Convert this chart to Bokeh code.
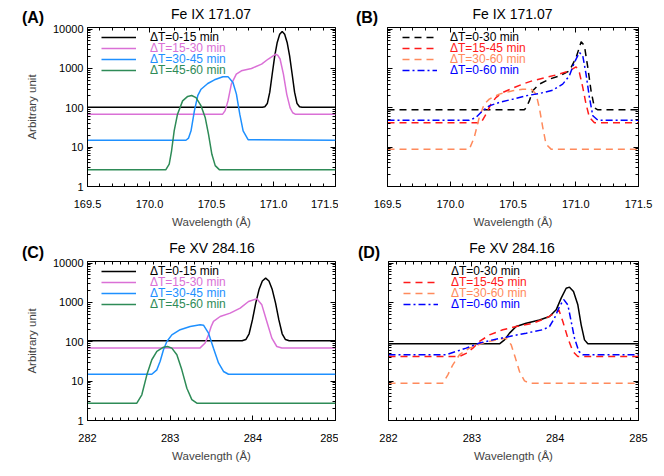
from bokeh.plotting import figure
from bokeh.models import (Range1d, FixedTicker, PrintfTickFormatter, LinearAxis, LogAxis,
                          Legend, LegendItem, Div)
from bokeh.layouts import column, row
from bokeh.embed import file_html
from bokeh.resources import INLINE

FONT = "Liberation Sans"

# ---------------- tick definitions ----------------
X_TICKS_FE9 = [169.5, 170.0, 170.5, 171.0, 171.5]
X_TICKS_FE15 = [282, 283, 284, 285]
Y_TICKS = [1, 10, 100, 1000, 10000]
Y_RANGE = (1, 11000)

# ---------------- Panel A: Fe IX 171.07, 15-min windows ----------------
A_0_15_x = [169.5, 170.91, 170.93, 170.95, 170.97, 170.99, 171.01, 171.03, 171.05, 171.07,
            171.09, 171.11, 171.13, 171.15, 171.17, 171.19, 171.21, 171.23, 171.5]
A_0_15_y = [104, 104, 107, 128, 250, 735, 2080, 4580, 7400, 8700,
            7400, 4580, 2080, 735, 250, 128, 107, 104, 104]

A_15_30_x = [169.5, 170.59, 170.61, 170.633, 170.66, 170.70, 170.741, 170.822, 170.904, 170.958,
             171.018, 171.035, 171.053, 171.08, 171.107, 171.134, 171.155, 171.175, 171.5]
A_15_30_y = [69, 69, 85, 150, 400, 720, 870, 1000, 1290, 1740,
             2300, 2150, 1740, 720, 220, 100, 75, 69, 69]

A_30_45_x = [169.5, 170.294, 170.315, 170.335, 170.362, 170.389, 170.416, 170.47, 170.524, 170.592,
             170.633, 170.673, 170.701, 170.728, 170.755, 170.795, 171.5]
A_30_45_y = [15, 15, 17, 26, 84, 203, 297, 415, 515, 615,
             620, 440, 223, 69, 26, 15.5, 15]

A_45_60_x = [169.5, 170.131, 170.159, 170.178, 170.199, 170.226, 170.267, 170.308, 170.34, 170.375,
             170.416, 170.449, 170.476, 170.503, 170.53, 170.565, 171.5]
A_45_60_y = [2.65, 2.65, 3.7, 8.1, 26, 69, 150, 195, 205, 182,
             112, 57, 21, 6.6, 3.4, 2.65, 2.65]

# ---------------- Panel B: Fe IX 171.07, 30/60-min windows ----------------
B_0_30_x = [169.5, 170.59, 170.604, 170.63, 170.657, 170.71, 170.79, 170.87, 170.949, 171.003,
            171.043, 171.069, 171.096, 171.122, 171.149, 171.176, 171.5]
B_0_30_y = [89, 89, 100, 150, 270, 400, 535, 650, 870, 1900,
            4750, 3800, 1060, 270, 100, 89, 89]

B_15_45_x = [169.5, 170.245, 170.285, 170.324, 170.364, 170.418, 170.497, 170.577, 170.657, 170.763,
             170.87, 170.949, 171.003, 171.029, 171.056, 171.082, 171.109, 171.149, 171.5]
B_15_45_y = [41.5, 41.5, 69, 124, 182, 245, 316, 400, 490, 590,
             720, 870, 1100, 790, 330, 124, 57, 41.5, 41.5]

B_30_60_x = [169.5, 170.152, 170.191, 170.231, 170.271, 170.311, 170.391, 170.497, 170.577, 170.644,
             170.684, 170.71, 170.737, 170.763, 170.803, 171.5]
B_30_60_y = [8.9, 8.9, 17.6, 57, 124, 166, 223, 270, 297, 300,
             223, 100, 32, 12, 8.9, 8.9]

B_0_60_x = [169.5, 170.152, 170.205, 170.258, 170.311, 170.391, 170.497, 170.604, 170.71, 170.816,
            170.896, 170.949, 170.989, 171.029, 171.056, 171.082, 171.109, 171.136, 171.176, 171.5]
B_0_60_y = [48.5, 48.5, 57, 84, 112, 137, 166, 203, 231, 280,
            400, 650, 1420, 2560, 2100, 720, 182, 63, 48.5, 48.5]

# ---------------- Panel C: Fe XV 284.16, 15-min windows ----------------
C_0_15_x = [282, 283.87, 283.915, 283.955, 283.995, 284.035, 284.075, 284.115, 284.155, 284.195,
            284.235, 284.275, 284.315, 284.355, 284.395, 284.44, 285]
C_0_15_y = [106, 106, 114, 160, 360, 960, 2130, 3510, 4150, 3510,
            2130, 960, 360, 160, 114, 106, 106]

C_15_30_x = [282, 283.363, 283.423, 283.464, 283.496, 283.524, 283.605, 283.726, 283.847, 283.948,
             284.048, 284.109, 284.169, 284.23, 284.29, 284.351, 285]
C_15_30_y = [70, 70, 93, 150, 245, 330, 440, 535, 720, 1060,
             1240, 870, 330, 124, 76, 70, 70]

C_30_45_x = [282, 282.778, 282.839, 282.879, 282.919, 282.96, 283.02, 283.121, 283.242, 283.363,
             283.403, 283.464, 283.524, 283.585, 283.645, 283.706, 285]
C_30_45_y = [15, 15, 19.4, 32, 63, 102, 150, 203, 245, 270,
             265, 166, 69, 29, 17.6, 15, 15]

C_45_60_x = [282, 282.597, 282.657, 282.718, 282.778, 282.839, 282.919, 282.968, 283.02, 283.081,
             283.141, 283.202, 283.262, 283.323, 285]
C_45_60_y = [2.75, 2.75, 4.5, 14.5, 35, 57, 73, 76, 69, 47,
             19.4, 6.6, 3.4, 2.75, 2.75]

# ---------------- Panel D: Fe XV 284.16, 30/60-min windows ----------------
D_0_30_x = [282, 283.332, 283.392, 283.452, 283.532, 283.652, 283.812, 283.932, 284.012, 284.072,
            284.132, 284.172, 284.22, 284.272, 284.312, 284.352, 284.392, 285]
D_0_30_y = [89, 89, 112, 166, 245, 297, 360, 440, 650, 1290,
            2300, 2450, 1900, 870, 270, 112, 89, 89]

D_15_45_x = [282, 282.852, 282.932, 283.012, 283.092, 283.212, 283.372, 283.532, 283.732, 283.892,
             283.992, 284.044, 284.092, 284.152, 284.212, 284.272, 285]
D_15_45_y = [42.5, 42.5, 51, 69, 102, 150, 203, 245, 297, 400,
             535, 650, 330, 124, 57, 42.5, 42.5]

D_30_60_x = [282, 282.652, 282.712, 282.772, 282.852, 282.972, 283.132, 283.292, 283.412, 283.472,
             283.524, 283.572, 283.632, 283.692, 285]
D_30_60_y = [8.9, 8.9, 14.5, 26, 47, 69, 93, 112, 124, 84,
             38, 17.6, 10.2, 8.9, 8.9]

D_0_60_x = [282, 282.692, 282.812, 282.932, 283.092, 283.252, 283.452, 283.652, 283.852, 283.932,
            283.992, 284.052, 284.104, 284.152, 284.192, 284.232, 284.284, 284.332, 285]
D_0_60_y = [47, 47, 57, 69, 93, 112, 137, 166, 203, 245,
            400, 790, 1180, 870, 330, 124, 57, 47, 47]

# ---------------- labels / colours ----------------
LABELS_15 = ["\u0394T=0-15 min", "\u0394T=15-30 min", "\u0394T=30-45 min", "\u0394T=45-60 min"]
LABELS_30 = ["\u0394T=0-30 min", "\u0394T=15-45 min", "\u0394T=30-60 min", "\u0394T=0-60 min"]
COLORS_15 = ["#000000", "#DA70D6", "#1E90FF", "#2E8B57"]
COLORS_30 = ["#000000", "#FF1A1A", "#FF8A5C", "#0000FF"]
DASHES_30 = ["7 5", "7 5", "7 5", "7 3 2 3"]
TITLES = ["Fe IX 171.07", "Fe IX 171.07", "Fe XV 284.16", "Fe XV 284.16"]
LETTERS = ["(A)", "(B)", "(C)", "(D)"]

FRAME_H = 159
LEGEND_VY = [142.5, 131, 120, 109]


def tick_minors(lo, hi, step, majors):
    n = int(round((hi - lo) / step))
    vals = [round(lo + i * step, 4) for i in range(n + 1)]
    return [v for v in vals if all(abs(v - m) > 1e-6 for m in majors)]


Y_MINOR = [m * 10 ** e for e in range(0, 5) for m in range(2, 10)]


def style_axis(ax, ticker, fmt, show_labels):
    ax.ticker = ticker
    ax.formatter = fmt
    ax.major_tick_in = 5
    ax.major_tick_out = 0
    ax.minor_tick_in = 3
    ax.minor_tick_out = 0
    ax.axis_line_color = "black"
    ax.major_tick_line_color = "black"
    ax.minor_tick_line_color = "black"
    ax.major_label_text_font = FONT
    ax.major_label_text_color = "black"
    ax.major_label_text_font_size = "11px"
    if not show_labels:
        ax.major_label_text_color = None
        ax.major_label_text_font_size = "1px"
        ax.major_label_standoff = 0


def make_panel(width, height, bl, br, bt, bb, xr, xticks, xminor, xfmt, ylab):
    p = figure(width=width, height=height, x_range=Range1d(*xr), y_range=Range1d(*Y_RANGE),
               y_axis_type="log", output_backend="svg", toolbar_location=None,
               min_border_left=bl, min_border_right=br, min_border_top=bt, min_border_bottom=bb)
    p.grid.visible = False
    p.outline_line_color = "black"
    p.outline_line_width = 1
    p.background_fill_color = "white"
    p.border_fill_color = None

    xt = FixedTicker(ticks=xticks, minor_ticks=xminor)
    yt = FixedTicker(ticks=Y_TICKS, minor_ticks=Y_MINOR)
    style_axis(p.xaxis[0], xt, PrintfTickFormatter(format=xfmt), True)
    p.xaxis[0].major_label_standoff = 13
    p.xaxis[0].axis_label = "Wavelength (\u00c5)"
    p.xaxis[0].axis_label_text_font = FONT
    p.xaxis[0].axis_label_text_font_style = "normal"
    p.xaxis[0].axis_label_text_font_size = "11.5px"
    p.xaxis[0].axis_label_standoff = 5

    style_axis(p.yaxis[0], yt, PrintfTickFormatter(format="%d"), ylab)
    if ylab:
        p.yaxis[0].major_label_standoff = 4
        p.yaxis[0].axis_label = "Arbitrary unit"
        p.yaxis[0].axis_label_text_font = FONT
        p.yaxis[0].axis_label_text_font_style = "normal"
        p.yaxis[0].axis_label_text_font_size = "11.5px"
        p.yaxis[0].axis_label_standoff = 12

    top = LinearAxis()
    style_axis(top, FixedTicker(ticks=xticks, minor_ticks=xminor), PrintfTickFormatter(format=xfmt), False)
    top.axis_line_color = None
    p.add_layout(top, "above")
    right = LogAxis()
    style_axis(right, FixedTicker(ticks=Y_TICKS, minor_ticks=Y_MINOR), PrintfTickFormatter(format="%d"), False)
    right.axis_line_color = None
    p.add_layout(right, "right")
    return p


def title_div(width, height, letter, lx, ly, title, tx, ty):
    html = ('<div style="position:relative;width:%dpx;height:%dpx;'
            'font-family:\'Liberation Sans\',Arial,sans-serif;color:black;">' % (width, height)
            + '<span style="position:absolute;left:%gpx;top:%gpx;transform:translate(-50%%,-50%%);'
              'font-size:16px;font-weight:bold;line-height:1;white-space:nowrap;">%s</span>'
            % (lx, ly, letter)
            + '<span style="position:absolute;left:%gpx;top:%gpx;transform:translate(-50%%,-50%%);'
              'font-size:14px;line-height:1;white-space:nowrap;">%s</span>' % (tx, ty, title)
            + '</div>')
    return Div(text=html, width=width, height=height, margin=0, styles={"overflow": "visible"})


def add_legend_row(p, r, label, color, vy, x0, standoff):
    leg = Legend(items=[LegendItem(label=label, renderers=[r])], location=(x0, vy),
                 padding=0, margin=0, spacing=0, glyph_width=35, glyph_height=12,
                 label_height=12, label_standoff=standoff, label_text_font=FONT,
                 label_text_font_size="12px", label_text_color=color,
                 background_fill_alpha=0, border_line_alpha=0)
    p.add_layout(leg)


XMIN9 = tick_minors(169.5, 171.5, 0.1, X_TICKS_FE9)
XMIN15 = tick_minors(282, 285, 0.1, X_TICKS_FE15)

# Panel A
pA = make_panel(338, 209, 87, 3, 5, 45, (169.5, 171.5), X_TICKS_FE9, XMIN9, "%.1f", True)
seriesA = [(A_0_15_x, A_0_15_y), (A_15_30_x, A_15_30_y), (A_30_45_x, A_30_45_y), (A_45_60_x, A_45_60_y)]
for i, (xs, ys) in enumerate(seriesA):
    r = pA.line(xs, ys, line_color=COLORS_15[i], line_width=1.5)
    add_legend_row(pA, r, LABELS_15[i], COLORS_15[i], LEGEND_VY[i], 14, 14)

# Panel B
pB = make_panel(326, 209, 49, 26, 5, 45, (169.5, 171.5), X_TICKS_FE9, XMIN9, "%.1f", False)
seriesB = [(B_0_30_x, B_0_30_y), (B_15_45_x, B_15_45_y), (B_30_60_x, B_30_60_y), (B_0_60_x, B_0_60_y)]
for i, (xs, ys) in enumerate(seriesB):
    r = pB.line(xs, ys, line_color=COLORS_30[i], line_width=1.5, line_dash=DASHES_30[i])
    add_legend_row(pB, r, LABELS_30[i], COLORS_30[i], LEGEND_VY[i], 15, 13)

# Panel C
pC = make_panel(338, 212, 87, 3, 5, 48, (282, 285), X_TICKS_FE15, XMIN15, "%d", True)
seriesC = [(C_0_15_x, C_0_15_y), (C_15_30_x, C_15_30_y), (C_30_45_x, C_30_45_y), (C_45_60_x, C_45_60_y)]
for i, (xs, ys) in enumerate(seriesC):
    r = pC.line(xs, ys, line_color=COLORS_15[i], line_width=1.5)
    add_legend_row(pC, r, LABELS_15[i], COLORS_15[i], LEGEND_VY[i], 14, 14)

# Panel D (black curve drawn solid, legend sample dashed as in the original)
pD = make_panel(326, 212, 50, 26, 5, 48, (282, 285), X_TICKS_FE15, XMIN15, "%d", False)
seriesD = [(D_0_30_x, D_0_30_y), (D_15_45_x, D_15_45_y), (D_30_60_x, D_30_60_y), (D_0_60_x, D_0_60_y)]
for i, (xs, ys) in enumerate(seriesD):
    if i == 0:
        pD.line(xs, ys, line_color=COLORS_30[i], line_width=1.5)
        r = pD.line([], [], line_color=COLORS_30[i], line_width=1.5, line_dash=DASHES_30[i])
    else:
        r = pD.line(xs, ys, line_color=COLORS_30[i], line_width=1.5, line_dash=DASHES_30[i])
    add_legend_row(pD, r, LABELS_30[i], COLORS_30[i], LEGEND_VY[i], 15, 13)

dA = title_div(338, 22, LETTERS[0], 33, 18, TITLES[0], 211, 14)
dB = title_div(326, 22, LETTERS[1], 29, 18, TITLES[1], 174.5, 14)
dC = title_div(338, 25, LETTERS[2], 33, 22, TITLES[2], 212, 17)
dD = title_div(326, 25, LETTERS[3], 31, 22, TITLES[3], 174, 17)

layout = column(row(dA, dB), row(pA, pB), row(dC, dD), row(pC, pD))
open("out.html", "w").write(file_html(layout, INLINE))
